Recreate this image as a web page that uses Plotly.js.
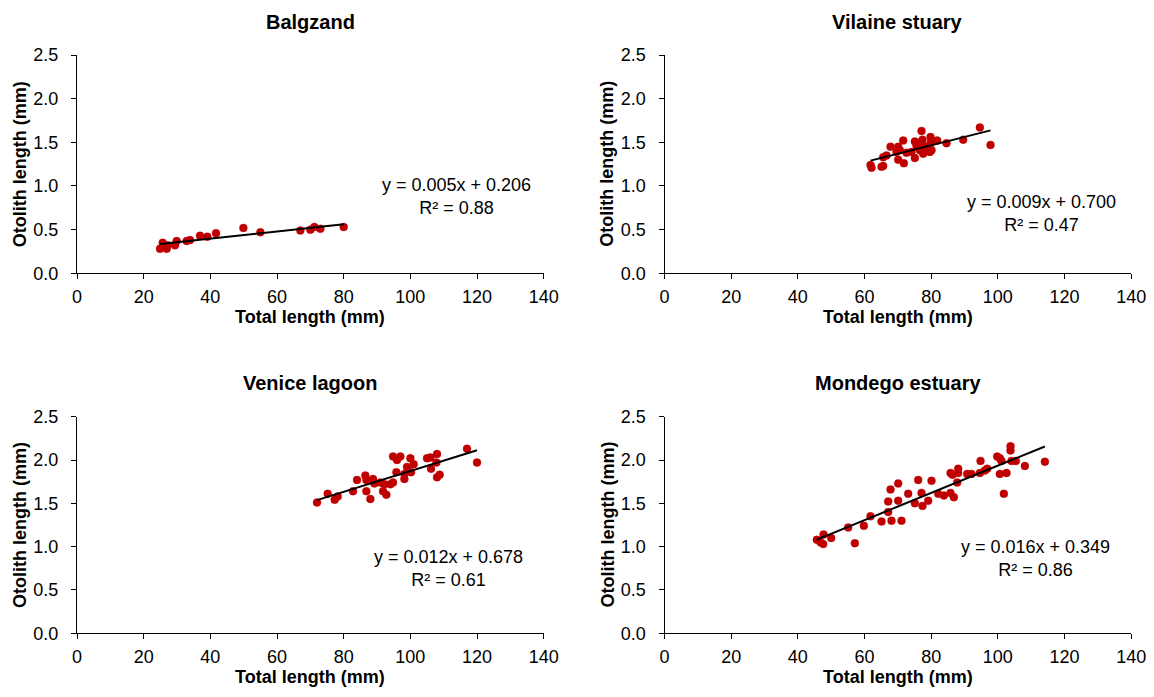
<!DOCTYPE html>
<html>
<head>
<meta charset="utf-8">
<script src="https://cdn.plot.ly/plotly-3.0.1.min.js"></script>
<style>html,body{margin:0;padding:0;background:#fff;}#chart{width:1154px;height:697px;}</style>
</head>
<body>
<div id="chart"></div>
<script>
// ---- Data ----
const panelNames = ["Balgzand", "Vilaine stuary", "Venice lagoon", "Mondego estuary"];
const equationLabels = ["y = 0.005x + 0.206", "y = 0.009x + 0.700", "y = 0.012x + 0.678", "y = 0.016x + 0.349"];
const r2Labels = ["R² = 0.88", "R² = 0.47", "R² = 0.61", "R² = 0.86"];
const xTickVals = [0, 20, 40, 60, 80, 100, 120, 140];
const yTickVals = [0, 0.5, 1.0, 1.5, 2.0, 2.5];

const balgzandTL = [24.9, 25.7, 26.9, 27.2, 29.4, 29.9, 32.9, 33.9, 36.9, 39.1, 41.7, 49.9, 55.0, 67.0, 70.0, 71.2, 73.0, 80.0];
const balgzandOL = [0.28, 0.35, 0.28, 0.32, 0.32, 0.37, 0.37, 0.38, 0.43, 0.42, 0.46, 0.52, 0.47, 0.49, 0.50, 0.53, 0.51, 0.53];

const vilaineTL = [61.8, 62.1, 65.1, 65.6, 65.6, 66.6, 67.8, 69.6, 70.1, 70.1, 70.6, 71.6, 71.8, 72.6, 74.1, 75.1, 75.1, 75.6, 76.1, 76.6, 77.1, 77.4, 77.6, 78.1, 79.6, 79.8, 79.8, 80.1, 81.8, 84.6, 89.6, 94.6, 97.8];
const vilaineOL = [1.24, 1.21, 1.22, 1.23, 1.33, 1.35, 1.45, 1.39, 1.45, 1.30, 1.41, 1.52, 1.26, 1.38, 1.39, 1.51, 1.32, 1.46, 1.49, 1.41, 1.63, 1.53, 1.37, 1.45, 1.39, 1.56, 1.49, 1.41, 1.52, 1.49, 1.53, 1.67, 1.47];

const veniceTL = [72.0, 75.2, 77.3, 78.2, 82.8, 84.0, 86.5, 86.8, 86.8, 88.0, 88.8, 89.2, 91.0, 91.8, 92.2, 92.8, 94.0, 94.8, 94.8, 95.8, 96.0, 97.0, 98.2, 98.2, 99.0, 100.0, 100.2, 101.0, 105.0, 106.0, 106.2, 107.8, 108.0, 108.0, 108.8, 117.0, 120.0];
const veniceOL = [1.51, 1.61, 1.54, 1.58, 1.64, 1.77, 1.82, 1.77, 1.64, 1.55, 1.78, 1.73, 1.74, 1.64, 1.72, 1.60, 1.72, 1.74, 2.04, 1.86, 2.00, 2.04, 1.78, 1.84, 1.92, 2.02, 1.86, 1.95, 2.02, 2.03, 1.90, 1.97, 2.07, 1.80, 1.83, 2.13, 1.97];

const mondegoTL = [45.7, 46.8, 47.6, 47.7, 50.0, 55.1, 57.1, 59.8, 61.8, 65.1, 67.1, 67.1, 67.8, 68.1, 70.1, 70.1, 71.1, 73.1, 75.1, 76.1, 77.1, 77.4, 79.1, 80.1, 82.1, 83.8, 85.8, 85.8, 86.4, 86.8, 87.8, 88.1, 88.1, 90.8, 92.1, 94.6, 94.8, 96.1, 96.8, 99.8, 100.6, 100.6, 101.1, 101.8, 102.6, 103.8, 103.8, 104.1, 105.4, 108.1, 114.1];
const mondegoOL = [1.08, 1.05, 1.03, 1.14, 1.10, 1.22, 1.04, 1.24, 1.35, 1.29, 1.40, 1.52, 1.66, 1.30, 1.73, 1.53, 1.30, 1.61, 1.50, 1.77, 1.62, 1.47, 1.53, 1.76, 1.61, 1.59, 1.62, 1.85, 1.83, 1.57, 1.74, 1.90, 1.85, 1.84, 1.84, 1.85, 1.99, 1.88, 1.90, 2.04, 2.02, 1.84, 1.99, 1.61, 1.85, 2.16, 2.11, 1.99, 1.99, 1.93, 1.98];

const seriesX = [balgzandTL, vilaineTL, veniceTL, mondegoTL];
const seriesY = [balgzandOL, vilaineOL, veniceOL, mondegoOL];

// ---- Layout helpers (pixel -> paper) ----
const W = 1154, H = 697;
const px = v => v / W;
const py = v => 1 - v / H;

function linfit(xs, ys) {
  const n = xs.length;
  let sx = 0, sy = 0, sxx = 0, sxy = 0;
  for (let i = 0; i < n; i++) { sx += xs[i]; sy += ys[i]; sxx += xs[i] * xs[i]; sxy += xs[i] * ys[i]; }
  const b = (n * sxy - sx * sy) / (n * sxx - sx * sx);
  const a = (sy - b * sx) / n;
  return {a, b};
}

const panels = [
  {x0: 77, x1: 543.7, y0: 55, y1: 273.3, eq: [456, 196.5], title: 22.5},
  {x0: 664.5, x1: 1131.2, y0: 55, y1: 273.3, eq: [1041, 213.5], title: 22.5},
  {x0: 77, x1: 543.7, y0: 416.7, y1: 633.3, eq: [448, 568.5], title: 383},
  {x0: 664.5, x1: 1131.2, y0: 416.7, y1: 633.3, eq: [1035, 558.5], title: 383}
];

const FONT = "Liberation Sans, Arial, sans-serif";
const traces = [];
const layout = {
  width: W, height: H,
  margin: {l: 0, r: 0, t: 0, b: 0},
  paper_bgcolor: "#ffffff", plot_bgcolor: "#ffffff",
  showlegend: false,
  font: {family: FONT, size: 18, color: "#000000"},
  annotations: []
};

panels.forEach((p, i) => {
  const k = i === 0 ? "" : String(i + 1);
  const xa = "x" + k, ya = "y" + k;
  traces.push({
    type: "scatter", mode: "markers", x: seriesX[i], y: seriesY[i],
    xaxis: xa, yaxis: ya,
    marker: {color: "#C00000", size: 8, line: {width: 0.6, color: "rgba(192,0,0,0.5)"}},
    hoverinfo: "x+y"
  });
  const f = linfit(seriesX[i], seriesY[i]);
  const xmin = Math.min(...seriesX[i]), xmax = Math.max(...seriesX[i]);
  traces.push({
    type: "scatter", mode: "lines", x: [xmin, xmax], y: [f.a + f.b * xmin, f.a + f.b * xmax],
    xaxis: xa, yaxis: ya,
    line: {color: "#000000", width: 2}, hoverinfo: "skip"
  });
  layout["xaxis" + k] = {
    domain: [px(p.x0), px(p.x1)], anchor: ya, range: [0, 140],
    tickvals: xTickVals, ticktext: xTickVals.map(String),
    showgrid: false, zeroline: false, showline: true, linecolor: "#000", linewidth: 1,
    ticks: "outside", ticklen: 5, tickcolor: "#000", tickwidth: 1, ticklabelstandoff: 2,
    tickfont: {family: FONT, size: 18, color: "#000"}, fixedrange: true
  };
  layout["yaxis" + k] = {
    domain: [py(p.y1), py(p.y0)], anchor: xa, range: [0, 2.5],
    tickvals: yTickVals, ticktext: yTickVals.map(v => v.toFixed(1)),
    showgrid: false, zeroline: false, showline: true, linecolor: "#000", linewidth: 1,
    ticks: "outside", ticklen: 5, tickcolor: "#000", tickwidth: 1, ticklabelstandoff: 9,
    tickfont: {family: FONT, size: 18, color: "#000"}, fixedrange: true
  };
  const cx = (p.x0 + p.x1) / 2;
  // panel title
  layout.annotations.push({
    xref: "paper", yref: "paper", x: px(cx), y: py(p.title), xanchor: "center", yanchor: "middle",
    text: "<b>" + panelNames[i] + "</b>", showarrow: false, font: {family: FONT, size: 20, color: "#000"}
  });
  // x axis title
  layout.annotations.push({
    xref: "paper", yref: "paper", x: px(cx), y: py(p.y1 + 43.5), xanchor: "center", yanchor: "middle",
    text: "<b>Total length (mm)</b>", showarrow: false, font: {family: FONT, size: 18, color: "#000"}
  });
  // y axis title
  layout.annotations.push({
    xref: "paper", yref: "paper", x: px(p.x0 - 57), y: py((p.y0 + p.y1) / 2), xanchor: "center", yanchor: "middle",
    textangle: -90,
    text: "<b>Otolith length (mm)</b>", showarrow: false, font: {family: FONT, size: 18, color: "#000"}
  });
  // equation
  layout.annotations.push({
    xref: "paper", yref: "paper", x: px(p.eq[0]), y: py(p.eq[1]), xanchor: "center", yanchor: "middle",
    align: "center",
    text: equationLabels[i] + "<br>" + r2Labels[i], showarrow: false, font: {family: FONT, size: 18, color: "#000"}
  });
});

Plotly.newPlot("chart", traces, layout, {displayModeBar: false, staticPlot: true});
</script>
</body>
</html>
